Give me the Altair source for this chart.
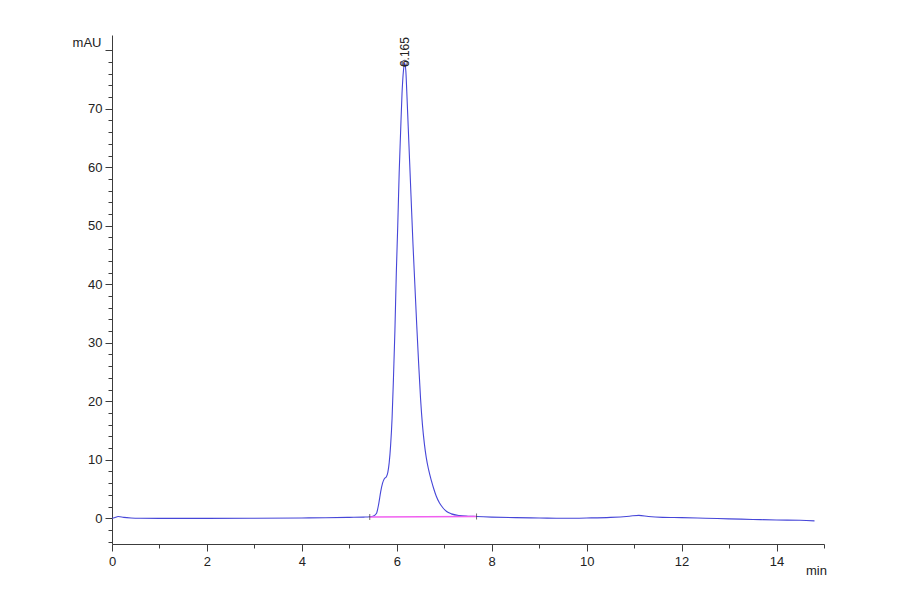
import altair as alt
import pandas as pd

# Chromatogram trace (retention time in min, absorbance in mAU)
time_min = [0.0, 0.05, 0.13, 0.25, 0.4, 0.6, 1.0, 2.0, 3.0, 4.0, 4.5, 5.0, 5.3, 5.43,
            5.5, 5.57, 5.62, 5.66, 5.70, 5.74, 5.78, 5.81, 5.84, 5.87, 5.90, 5.93, 5.96,
            5.99, 6.02, 6.05, 6.08, 6.11, 6.14, 6.165, 6.19, 6.21, 6.24, 6.27, 6.30, 6.34,
            6.38, 6.42, 6.46, 6.50, 6.54, 6.58, 6.62, 6.67, 6.73, 6.78, 6.83, 6.90, 6.97,
            7.05, 7.15, 7.33, 7.5, 7.68, 8.0, 8.5, 9.0, 9.5, 10.0, 10.5, 10.9, 11.1, 11.3,
            11.6, 12.0, 12.5, 13.0, 13.5, 14.0, 14.5, 14.8]
signal_mau = [0.0, 0.1, 0.3, 0.15, 0.05, 0.0, -0.02, -0.02, 0.0, 0.05, 0.08, 0.15, 0.2, 0.25,
              0.35, 0.8, 2.5, 4.5, 6.0, 6.8, 7.1, 7.8, 9.5, 12.5, 17.0, 24.0, 32.0,
              42.0, 50.0, 59.0, 66.0, 72.6, 76.5, 77.8, 76.5, 73.0, 67.0, 61.0, 55.0, 47.0,
              40.0, 33.0, 26.5, 20.5, 16.0, 12.8, 10.4, 8.3, 6.4, 5.0, 3.8, 2.6, 1.8,
              1.15, 0.75, 0.45, 0.35, 0.3, 0.2, 0.1, 0.05, 0.0, 0.05, 0.15, 0.35, 0.5, 0.3,
              0.15, 0.1, 0.0, -0.1, -0.2, -0.3, -0.35, -0.45]

# Integration baseline of the main peak
baseline_t = [5.43, 7.68]
baseline_y = [0.2, 0.3]

# Peak annotation
peak_t = [6.165]
peak_y = [77.8]
peak_label = ["6.165"]

# Axis ticks (minor ticks every 0.5 min / 2 mAU, labelled every 2 min / 10 mAU)
x_ticks = [i * 0.5 for i in range(31)]
y_ticks = [-4 + 2 * i for i in range(43)]

trace = pd.DataFrame({"t": time_min, "y": signal_mau})
base_df = pd.DataFrame({"t": baseline_t, "y": baseline_y})
peak_df = pd.DataFrame({"t": peak_t, "y": peak_y, "label": peak_label})

xs = alt.Scale(domain=[0, 15], nice=False, zero=False)
ys = alt.Scale(domain=[-4.4, 82.6], nice=False, zero=False)

FONT = "Liberation Sans"
AX = "#3c3c3c"

main = alt.Chart(trace).mark_line(color="#4646d8", strokeWidth=1.1, interpolate="monotone").encode(
    x=alt.X("t:Q", scale=xs, axis=alt.Axis(
        orient="bottom", values=x_ticks, tickCount=200, format="d", grid=False,
        domainColor=AX, tickColor=AX,
        tickSize={"condition": {"test": "datum.value % 2 === 0", "value": 7}, "value": 4},
        labelExpr="(datum.value % 2 === 0 && datum.value < 15) ? datum.label : ''",
        labelOverlap=False, labelFlush=False,
        labelFont=FONT, labelFontSize=13, labelColor="#222", labelPadding=4,
        title="min", titleFont=FONT, titleFontSize=13, titleFontWeight="normal", titleColor="#222",
        titleX=704, titleY=26, titleAlign="center", titleBaseline="middle")),
    y=alt.Y("y:Q", scale=ys, axis=alt.Axis(
        orient="left", values=y_ticks, tickCount=200, format="d", grid=False,
        domainColor=AX, tickColor=AX,
        tickSize={"condition": {"test": "datum.value % 10 === 0", "value": 7}, "value": 4},
        labelExpr="(datum.value % 10 === 0 && datum.value >= 0 && datum.value <= 70) ? datum.label : ''",
        labelOverlap=False, labelFlush=False,
        labelFont=FONT, labelFontSize=13, labelColor="#222", labelPadding=3,
        title="mAU", titleFont=FONT, titleFontSize=13, titleFontWeight="normal", titleColor="#222",
        titleAngle=0, titleX=-11, titleY=7, titleAlign="right", titleBaseline="middle")),
)

baseline = alt.Chart(base_df).mark_line(color="#f060f0", strokeWidth=1.5).encode(
    x=alt.X("t:Q", scale=xs), y=alt.Y("y:Q", scale=ys))

base_ticks = alt.Chart(base_df).mark_tick(color="#333", orient="vertical", size=6, thickness=1).encode(
    x=alt.X("t:Q", scale=xs), y=alt.Y("y:Q", scale=ys))

apex = alt.Chart(peak_df).mark_point(shape="circle", size=28, filled=False, color="#2a2a50",
                                     strokeWidth=1.3).encode(
    x=alt.X("t:Q", scale=xs), y=alt.Y("y:Q", scale=ys))

label = alt.Chart(peak_df).mark_text(angle=270, align="left", baseline="middle", dx=-4,
                                     font=FONT, fontSize=12, color="#222").encode(
    x=alt.X("t:Q", scale=xs), y=alt.Y("y:Q", scale=ys), text="label:N")

chart = alt.layer(main, baseline, base_ticks, apex, label).properties(
    width=712, height=509,
    autosize=alt.AutoSizeParams(type="none"),
    padding={"left": 104, "top": 27, "right": 60, "bottom": 40},
).configure_view(stroke=None)

chart.save("out.html", embed_options={"renderer": "svg", "actions": False})
